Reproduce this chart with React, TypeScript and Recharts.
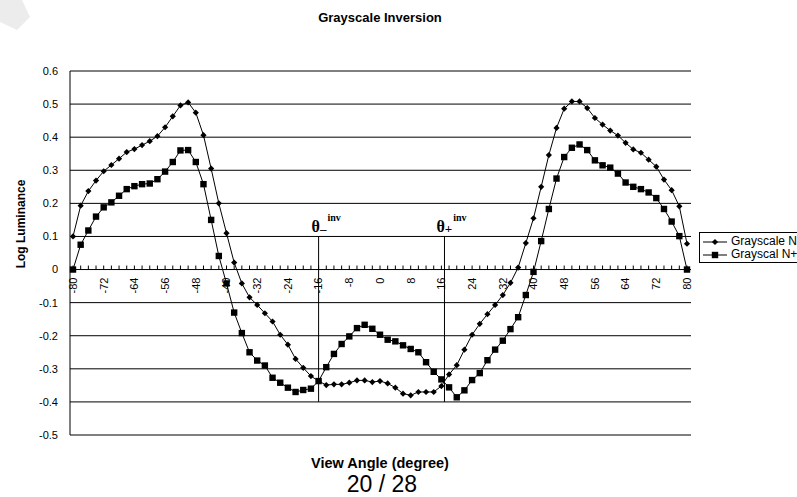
import { LineChart, Line, XAxis, YAxis, CartesianGrid, ReferenceLine, Legend } from "recharts"

// view angles, every 2 degrees
const ANGLES = [
  -80, -78, -76, -74, -72, -70, -68, -66, -64, -62, -60, -58, -56, -54, -52, -50, -48, -46, -44, -42,
  -40, -38, -36, -34, -32, -30, -28, -26, -24, -22, -20, -18, -16, -14, -12, -10, -8, -6, -4, -2,
  0, 2, 4, 6, 8, 10, 12, 14, 16, 18, 20, 22, 24, 26, 28, 30, 32, 34, 36, 38,
  40, 42, 44, 46, 48, 50, 52, 54, 56, 58, 60, 62, 64, 66, 68, 70, 72, 74, 76, 78, 80,
]

const GRAYSCALE_N = [
  0.1, 0.193, 0.237, 0.269, 0.297, 0.316, 0.335, 0.355, 0.364, 0.376, 0.388, 0.403, 0.43, 0.463, 0.496, 0.505, 0.474, 0.406, 0.305, 0.2,
  0.11, 0.021, -0.042, -0.084, -0.107, -0.132, -0.157, -0.197, -0.227, -0.27, -0.297, -0.322, -0.337, -0.349, -0.347, -0.347, -0.342, -0.335, -0.335, -0.34,
  -0.337, -0.344, -0.357, -0.375, -0.38, -0.37, -0.37, -0.37, -0.352, -0.317, -0.289, -0.242, -0.197, -0.164, -0.135, -0.107, -0.077, -0.04, 0.006, 0.08,
  0.155, 0.25, 0.346, 0.428, 0.486, 0.508, 0.508, 0.488, 0.458, 0.438, 0.42, 0.405, 0.383, 0.363, 0.353, 0.332, 0.311, 0.272, 0.24, 0.191, 0.078,
]

const GRAYSCALE_N1 = [
  0, 0.075, 0.118, 0.16, 0.188, 0.203, 0.223, 0.243, 0.252, 0.258, 0.26, 0.273, 0.296, 0.325, 0.36, 0.361, 0.325, 0.258, 0.15, 0.041,
  -0.042, -0.13, -0.192, -0.25, -0.275, -0.29, -0.327, -0.342, -0.357, -0.37, -0.364, -0.36, -0.337, -0.295, -0.255, -0.225, -0.202, -0.177, -0.167, -0.179,
  -0.197, -0.212, -0.217, -0.229, -0.24, -0.25, -0.28, -0.309, -0.332, -0.356, -0.386, -0.365, -0.334, -0.313, -0.274, -0.242, -0.215, -0.18, -0.144, -0.077,
  -0.007, 0.086, 0.183, 0.275, 0.34, 0.368, 0.378, 0.361, 0.33, 0.315, 0.308, 0.29, 0.263, 0.25, 0.243, 0.233, 0.216, 0.183, 0.145, 0.101, 0,
]

const X_LABELS = [-80, -72, -64, -56, -48, -40, -32, -24, -16, -8, 0, 8, 16, 24, 32, 40, 48, 56, 64, 72, 80]
const Y_TICKS = [0.6, 0.5, 0.4, 0.3, 0.2, 0.1, 0, -0.1, -0.2, -0.3, -0.4, -0.5]
const THETA_MINUS = -16
const THETA_PLUS = 16.8

const data = ANGLES.map((angle, i) => ({ angle, n: GRAYSCALE_N[i], n1: GRAYSCALE_N1[i] }))

const W = 797
const H = 497
const MARGIN = { top: 71, right: 106, bottom: 61, left: 8 }
const X_AXIS_H = 1
const Y_DOMAIN = [-0.5, 0.6]
const PLOT_H = H - MARGIN.top - MARGIN.bottom - X_AXIS_H
const ZERO_Y = MARGIN.top + (PLOT_H * Y_DOMAIN[1]) / (Y_DOMAIN[1] - Y_DOMAIN[0])
const FONT = "Arial, 'Liberation Sans', sans-serif"
const SERIF = "'Times New Roman', 'Liberation Serif', serif"

const Diamond = ({ cx, cy }: any) => {
  if (cx == null || cy == null) return null
  const r = 3.1
  return <polygon points={`${cx},${cy - r} ${cx + r},${cy} ${cx},${cy + r} ${cx - r},${cy}`} fill="#000" />
}

const Square = ({ cx, cy }: any) => {
  if (cx == null || cy == null) return null
  return <rect x={cx - 3.2} y={cy - 3.2} width={6.4} height={6.4} fill="#000" />
}

// ticks sit on the zero line, like the excel axis crossing at 0
const AngleTick = ({ x, payload }: any) => {
  const v = payload.value
  return (
    <g>
      <line x1={x} x2={x} y1={ZERO_Y - 4} y2={ZERO_Y} stroke="#000" strokeWidth={1} />
      {X_LABELS.includes(v) && (
        <text
          x={x}
          y={ZERO_Y + 8}
          transform={`rotate(-90, ${x}, ${ZERO_Y + 8})`}
          textAnchor="end"
          dy="0.35em"
          fontSize={11}
          fontFamily={FONT}
          fill="#000"
        >
          {v}
        </text>
      )}
    </g>
  )
}

const ThetaLabel = ({ viewBox, sub, shift }: any) => {
  if (!viewBox) return null
  const x = viewBox.x - shift
  const y = viewBox.y - 4
  return (
    <text x={x} y={y} fontFamily={SERIF} fontWeight="bold" fontSize={16} fill="#000">
      θ
      <tspan fontSize={13} dy={1}>{sub}</tspan>
      <tspan fontSize={10} dy={-12} dx={1}>inv</tspan>
    </text>
  )
}

const LegendBox = ({ payload }: any) => (
  <div
    style={{
      width: 110,
      boxSizing: "border-box",
      border: "1px solid #000",
      background: "#fff",
      padding: "2px 0 1px 3px",
      fontFamily: FONT,
      fontSize: 12,
      lineHeight: "13px",
      whiteSpace: "nowrap",
    }}
  >
    {(payload || []).map((p: any) => (
      <div key={p.value} style={{ display: "flex", alignItems: "center", height: 13 }}>
        <svg width={26} height={10} style={{ marginRight: 2, flex: "none" }}>
          <line x1={0} x2={24} y1={5} y2={5} stroke="#000" />
          {p.dataKey === "n" ? <Diamond cx={12} cy={5} /> : <Square cx={12} cy={5} />}
        </svg>
        <span>{p.value}</span>
      </div>
    ))}
  </div>
)

export default function App() {
  return (
    <div style={{ position: "absolute", left: 0, top: 0, width: W, height: H, overflow: "hidden", background: "#fff" }}>
      <svg width={W} height={H} style={{ position: "absolute", left: 0, top: 0 }}>
        <polygon points="0,0 22,0 30,17 17,30 0,22" fill="#ececec" />
        <text x={380} y={22} textAnchor="middle" fontFamily={FONT} fontWeight="bold" fontSize={13}>
          Grayscale Inversion
        </text>
        <text
          x={21}
          y={224}
          transform="rotate(-90, 21, 224)"
          textAnchor="middle"
          dy="0.35em"
          fontFamily={FONT}
          fontWeight="bold"
          fontSize={12}
        >
          Log Luminance
        </text>
        <text x={380} y={468} textAnchor="middle" fontFamily={FONT} fontWeight="bold" fontSize={14.5}>
          View Angle (degree)
        </text>
        <text x={382} y={492} textAnchor="middle" fontFamily={FONT} fontSize={23}>
          20 / 28
        </text>
      </svg>
      <div style={{ position: "absolute", left: 0, top: 0 }}>
        <LineChart width={W} height={H} data={data} margin={MARGIN}>
          <CartesianGrid horizontal vertical={false} stroke="#000" strokeWidth={1} />
          <XAxis
            dataKey="angle"
            type="number"
            domain={[-80, 80]}
            ticks={ANGLES}
            interval={0}
            tick={<AngleTick />}
            tickLine={false}
            axisLine={false}
            height={X_AXIS_H}
            padding={{ left: 3, right: 4 }}
          />
          <YAxis
            type="number"
            domain={Y_DOMAIN}
            ticks={Y_TICKS}
            interval={0}
            width={62}
            tickLine={false}
            tickMargin={6}
            axisLine={{ stroke: "#000" }}
            tick={{ fill: "#000", fontSize: 11, fontFamily: FONT }}
            tickFormatter={(v: number) => String(Math.round(v * 10) / 10)}
          />
          <YAxis
            yAxisId="right"
            orientation="right"
            type="number"
            domain={Y_DOMAIN}
            width={0}
            tick={false}
            tickLine={false}
            axisLine={{ stroke: "#000" }}
          />
          <ReferenceLine
            segment={[{ x: THETA_MINUS, y: 0.1 }, { x: THETA_MINUS, y: -0.4 }]}
            stroke="#000"
            ifOverflow="visible"
            label={<ThetaLabel sub="–" shift={7} />}
          />
          <ReferenceLine
            segment={[{ x: THETA_PLUS, y: 0.1 }, { x: THETA_PLUS, y: -0.4 }]}
            stroke="#000"
            ifOverflow="visible"
            label={<ThetaLabel sub="+" shift={8} />}
          />
          <Line
            dataKey="n"
            name="Grayscale N"
            stroke="#000"
            strokeWidth={1}
            dot={<Diamond />}
            activeDot={false}
            isAnimationActive={false}
          />
          <Line
            dataKey="n1"
            name="Grayscal N+1"
            stroke="#000"
            strokeWidth={1}
            dot={<Square />}
            activeDot={false}
            isAnimationActive={false}
          />
          <Legend
            layout="vertical"
            align="right"
            verticalAlign="middle"
            content={<LegendBox />}
            itemSorter="dataKey"
            wrapperStyle={{
              position: "absolute",
              left: 699,
              top: 232,
              width: 0,
              height: 0,
              overflow: "visible",
              bottom: "auto",
              right: "auto",
            }}
          />
        </LineChart>
      </div>
    </div>
  )
}
